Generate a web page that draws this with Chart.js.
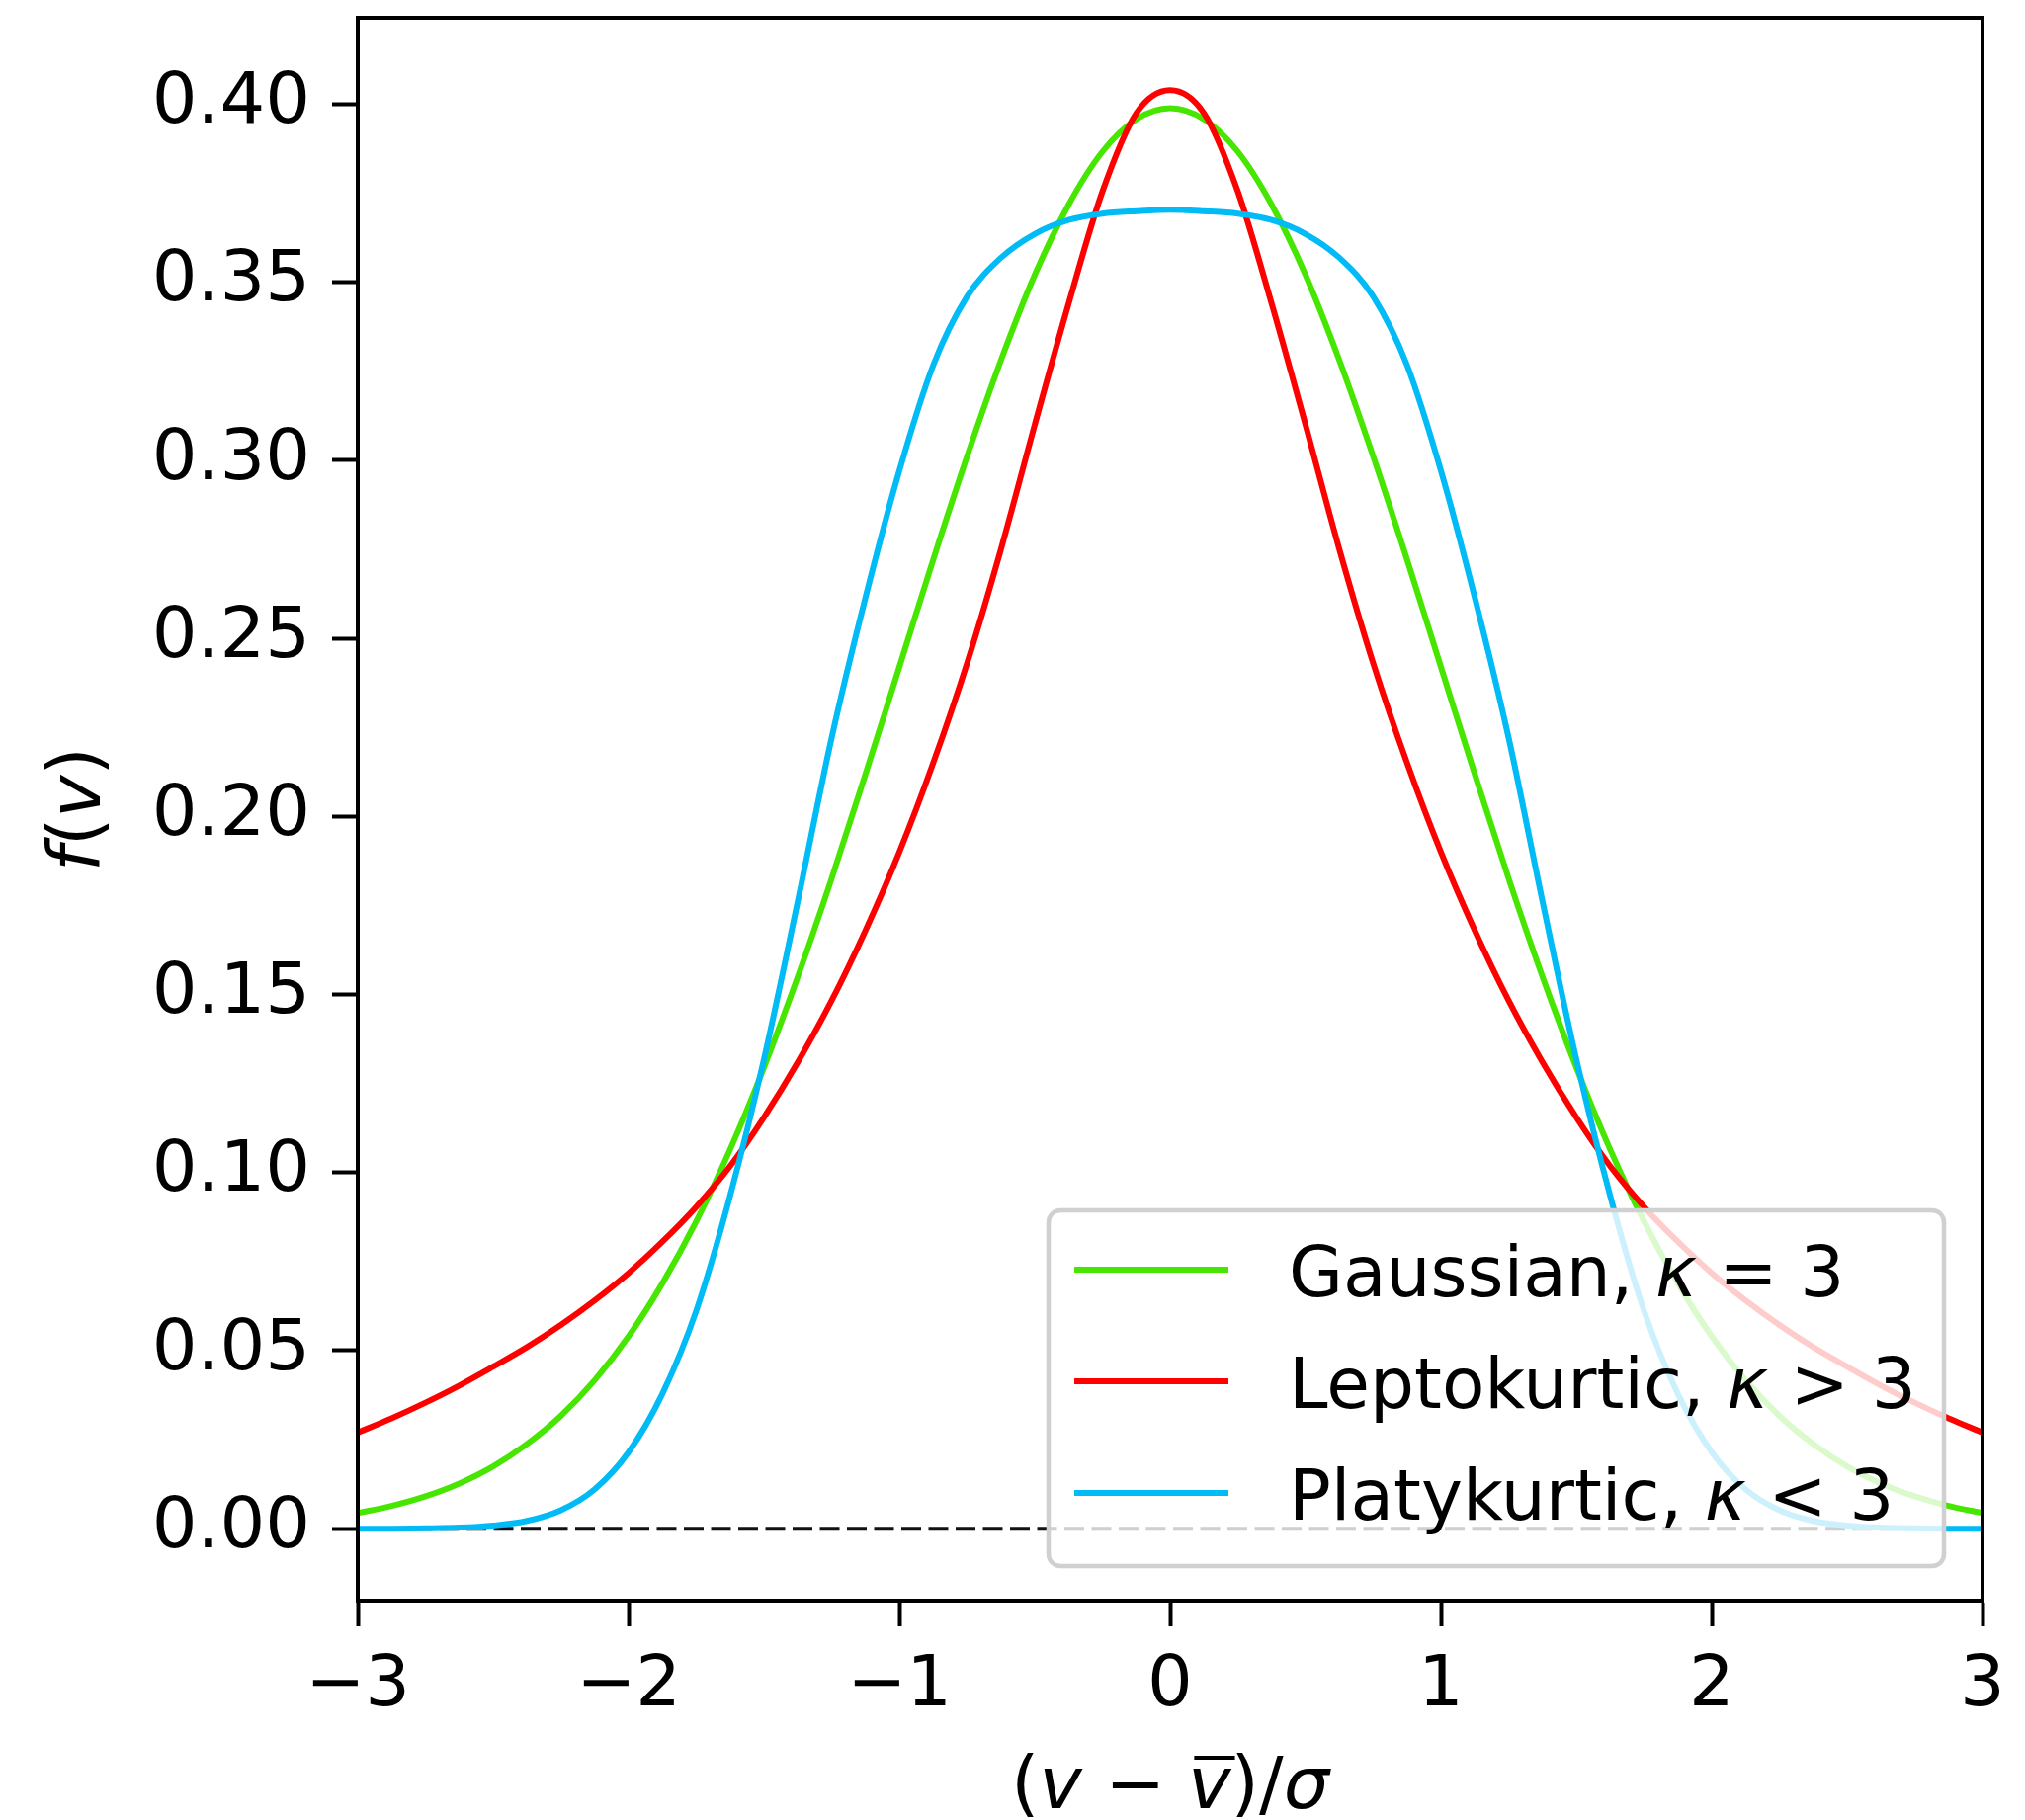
<!DOCTYPE html>
<html>
<head>
<meta charset="utf-8">
<script src="https://cdn.jsdelivr.net/npm/chart.js@4.4.0/dist/chart.umd.min.js"></script>
<style>
  html, body { margin: 0; padding: 0; background: #fff; }
  .chart-container { position: relative; width: 2049px; height: 1842px; }
</style>
</head>
<body>
<div class="chart-container"><canvas id="myChart"></canvas></div>
<script>
// values, step 0.125 in (v - vbar)/sigma, curves are symmetric
const xValues = [-3, -2.875, -2.75, -2.625, -2.5, -2.375, -2.25, -2.125, -2, -1.875, -1.75, -1.625, -1.5,
  -1.375, -1.25, -1.125, -1, -0.875, -0.75, -0.625, -0.5, -0.375, -0.25, -0.125, 0,
  0.125, 0.25, 0.375, 0.5, 0.625, 0.75, 0.875, 1, 1.125, 1.25, 1.375, 1.5,
  1.625, 1.75, 1.875, 2, 2.125, 2.25, 2.375, 2.5, 2.625, 2.75, 2.875, 3];

const gaussian = [0.0044, 0.0064, 0.0091, 0.0127, 0.0175, 0.0238, 0.0317, 0.0417, 0.054, 0.0689, 0.0863, 0.1065, 0.1295,
  0.155, 0.1826, 0.2119, 0.242, 0.2721, 0.3011, 0.3281, 0.3521, 0.3718, 0.3867, 0.3958, 0.3989,
  0.3958, 0.3867, 0.3718, 0.3521, 0.3281, 0.3011, 0.2721, 0.242, 0.2119, 0.1826, 0.155, 0.1295,
  0.1065, 0.0863, 0.0689, 0.054, 0.0417, 0.0317, 0.0238, 0.0175, 0.0127, 0.0091, 0.0064, 0.0044];

const leptokurtic = [0.027, 0.031, 0.0354, 0.0402, 0.0455, 0.051, 0.0572, 0.0641, 0.0718, 0.0806, 0.0904, 0.1018, 0.1155,
  0.131, 0.1483, 0.168, 0.19, 0.215, 0.243, 0.275, 0.31, 0.344, 0.3755, 0.3975, 0.404,
  0.3975, 0.3755, 0.344, 0.31, 0.275, 0.243, 0.215, 0.19, 0.168, 0.1483, 0.131, 0.1155,
  0.1018, 0.0904, 0.0806, 0.0718, 0.0641, 0.0572, 0.051, 0.0455, 0.0402, 0.0354, 0.031, 0.027];

const platykurtic = [0, 0, 0.0001, 0.0003, 0.0009, 0.0022, 0.0052, 0.0111, 0.0215, 0.0379, 0.0612, 0.0935, 0.1318,
  0.1762, 0.2221, 0.2615, 0.2971, 0.3267, 0.346, 0.3569, 0.3636, 0.3675, 0.3693, 0.37, 0.3704,
  0.37, 0.3693, 0.3675, 0.3636, 0.3569, 0.346, 0.3267, 0.2971, 0.2615, 0.2221, 0.1762, 0.1318,
  0.0935, 0.0612, 0.0379, 0.0215, 0.0111, 0.0052, 0.0022, 0.0009, 0.0003, 0.0001, 0, 0];

const zeroLineX = [-3, 3];
const zeroLineY = [0, 0];

const xTicks = [-3, -2, -1, 0, 1, 2, 3];
const yTicks = [0, 0.05, 0.1, 0.15, 0.2, 0.25, 0.3, 0.35, 0.4];

const GREEN = 'rgb(70, 230, 0)';
const RED = 'rgb(255, 0, 0)';
const BLUE = 'rgb(0, 187, 245)';
const FONT = "'DejaVu Sans', sans-serif";

const toPoints = (xs, ys) => xs.map((x, i) => ({ x, y: ys[i] }));

// draws a row of text pieces, some italic (mathtext style)
function drawParts(c, parts, x, y, size, align) {
  const widths = parts.map(p => {
    c.font = (p.it ? 'italic ' : '') + size + 'px ' + FONT;
    return c.measureText(p.t).width;
  });
  const total = widths.reduce((a, b) => a + b, 0);
  let cx = align === 'center' ? x - total / 2 : x;
  const pos = [];
  parts.forEach((p, i) => {
    c.font = (p.it ? 'italic ' : '') + size + 'px ' + FONT;
    c.fillText(p.t, cx, y);
    pos.push({ x: cx, w: widths[i] });
    cx += widths[i];
  });
  return pos;
}

const legendItems = [
  { color: GREEN, parts: [{ t: 'Gaussian, ' }, { t: 'κ', it: true }, { t: ' = 3' }] },
  { color: RED, parts: [{ t: 'Leptokurtic, ' }, { t: 'κ', it: true }, { t: ' > 3' }] },
  { color: BLUE, parts: [{ t: 'Platykurtic, ' }, { t: 'κ', it: true }, { t: ' < 3' }] },
];

function drawLegend(chart) {
  const { ctx: c, chartArea: a } = chart;
  const w = 906, h = 360, r = 12;
  const bx = a.right - 39 - w;
  const by = a.bottom - 35 - h;
  c.save();
  c.beginPath();
  c.roundRect(bx, by, w, h, r);
  c.fillStyle = 'rgba(255, 255, 255, 0.8)';
  c.fill();
  c.lineWidth = 4.5;
  c.strokeStyle = '#d0d0d0';
  c.stroke();
  c.textBaseline = 'alphabetic';
  c.textAlign = 'left';
  c.fillStyle = '#000';
  legendItems.forEach((item, i) => {
    const ly = by + 60 + i * 113;
    c.beginPath();
    c.moveTo(bx + 26, ly);
    c.lineTo(bx + 182, ly);
    c.strokeStyle = item.color;
    c.lineWidth = 6;
    c.stroke();
    drawParts(c, item.parts, bx + 243, ly + 27, 71, 'left');
  });
  c.restore();
}

function drawTitles(chart) {
  const { ctx: c, chartArea: a } = chart;
  c.save();
  c.fillStyle = '#000';
  c.textBaseline = 'alphabetic';
  c.textAlign = 'left';

  // x title: (v - vbar)/sigma
  const base = 1830;
  const pos = drawParts(c, [
    { t: '(' }, { t: 'v', it: true }, { t: ' − ' }, { t: 'v', it: true }, { t: ')/' }, { t: 'σ', it: true }
  ], (a.left + a.right) / 2, base, 73, 'center');
  c.strokeStyle = '#000';
  c.lineWidth = 4;
  c.beginPath();
  c.moveTo(pos[3].x + 6, base - 51);
  c.lineTo(pos[3].x + pos[3].w + 4, base - 51);
  c.stroke();

  // y title: f(v)
  c.translate(101, (a.top + a.bottom) / 2);
  c.rotate(-Math.PI / 2);
  drawParts(c, [{ t: 'f', it: true }, { t: '(' }, { t: 'v', it: true }, { t: ')' }], 0, 0, 73, 'center');
  c.restore();
}

const framePlugin = {
  id: 'frame',
  afterDatasetsDraw(chart) {
    const { ctx: c, chartArea: a } = chart;
    c.save();
    c.strokeStyle = '#000';
    c.lineWidth = 4;
    c.strokeRect(a.left, a.top, a.right - a.left, a.bottom - a.top);
    c.restore();
    drawLegend(chart);
  },
  afterDraw(chart) {
    drawTitles(chart);
  },
};

const ctx = document.getElementById('myChart').getContext('2d');

const tickFont = { family: FONT, size: 72 };

const lineSet = (label, ys, color, order) => ({
  label,
  data: toPoints(xValues, ys),
  borderColor: color,
  borderWidth: 6,
  pointRadius: 0,
  cubicInterpolationMode: 'monotone',
  fill: false,
  order,
});

const chart = new Chart(ctx, {
  type: 'line',
  data: {
    datasets: [
      lineSet('Platykurtic', platykurtic, BLUE, 1),
      lineSet('Leptokurtic', leptokurtic, RED, 2),
      lineSet('Gaussian', gaussian, GREEN, 3),
      {
        label: 'zero',
        data: toPoints(zeroLineX, zeroLineY),
        borderColor: '#111',
        borderWidth: 4,
        borderDash: [20, 7.5],
        pointRadius: 0,
        fill: false,
        order: 4,
      },
    ],
  },
  options: {
    animation: false,
    responsive: true,
    maintainAspectRatio: false,
    layout: { padding: { top: 18, right: 43, left: 0, bottom: 0 } },
    plugins: {
      legend: { display: false },
      tooltip: { enabled: false },
    },
    scales: {
      x: {
        type: 'linear',
        min: -3,
        max: 3,
        afterBuildTicks: s => {
          s.ticks = xTicks.map(v => ({ value: v }));
        },
        afterFit: s => {
          s.height = 222;
          s.paddingLeft = 0;
          s.paddingRight = 0;
        },
        grid: { drawOnChartArea: false, tickLength: 26, tickWidth: 4, tickColor: '#000' },
        border: { color: '#000', width: 4 },
        ticks: {
          font: tickFont,
          color: '#000',
          padding: 18,
          maxRotation: 0,
          callback: v => (v < 0 ? '−' + Math.abs(v) : String(v)),
        },
      },
      y: {
        type: 'linear',
        min: -0.0202,
        max: 0.4243,
        afterBuildTicks: s => {
          s.ticks = yTicks.map(v => ({ value: v }));
        },
        afterFit: s => {
          s.width = 362;
          s.paddingTop = 0;
          s.paddingBottom = 0;
        },
        grid: { drawOnChartArea: false, tickLength: 26, tickWidth: 4, tickColor: '#000' },
        border: { color: '#000', width: 4 },
        ticks: {
          font: tickFont,
          color: '#000',
          padding: 22,
          callback: v => v.toFixed(2),
        },
      },
    },
  },
  plugins: [framePlugin],
});
</script>
</body>
</html>
